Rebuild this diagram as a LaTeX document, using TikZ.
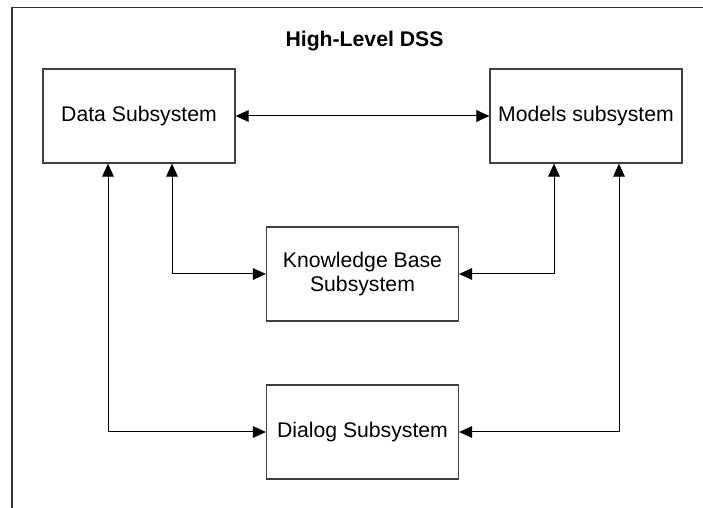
\documentclass[tikz,border=0pt]{standalone}
\usepackage{fontspec}
\setmainfont{Liberation Sans}
\usetikzlibrary{arrows.meta}
\begin{document}
\begin{tikzpicture}[x=0.5pt,y=-0.5pt,
  sysbox/.style={draw=black!75,line width=0.6pt,minimum width=96pt,minimum height=47pt,
    align=center,inner sep=0pt,font=\fontsize{10.6}{12}\selectfont},
  link/.style={line width=0.5pt,{Triangle[length=6.5pt,width=5.8pt]}-{Triangle[length=6.5pt,width=5.8pt]}},
  frameline/.style={draw=black!80,line width=0.6pt}]
\useasboundingbox (0,0) rectangle (703,508);
% partial outer frame
\coordinate (fb) at (12,508);
\coordinate (ft) at (12,7.5);
\coordinate (fr) at (703,7.5);
\draw[frameline] (fb) -- (ft) -- (fr);
% title
\node[font=\bfseries\fontsize{10.6}{12}\selectfont] (title) at (364.5,41) {High-Level DSS};
% subsystems
\node[sysbox] (data) at (139,116) {Data Subsystem};
\node[sysbox] (models) at (586,116) {Models subsystem};
\node[sysbox] (kb) at (362.5,274) {Knowledge Base\\Subsystem};
\node[sysbox] (dialog) at (362.5,432) {Dialog Subsystem};
% connectors
\draw[link] (data.east) -- (models.west);
\draw[link] (data.south -| 172,0) |- (kb.west);
\draw[link] (data.south -| 108,0) |- (dialog.west);
\draw[link] (models.south -| 554,0) |- (kb.east);
\draw[link] (models.south -| 619,0) |- (dialog.east);
\end{tikzpicture}
\end{document}
